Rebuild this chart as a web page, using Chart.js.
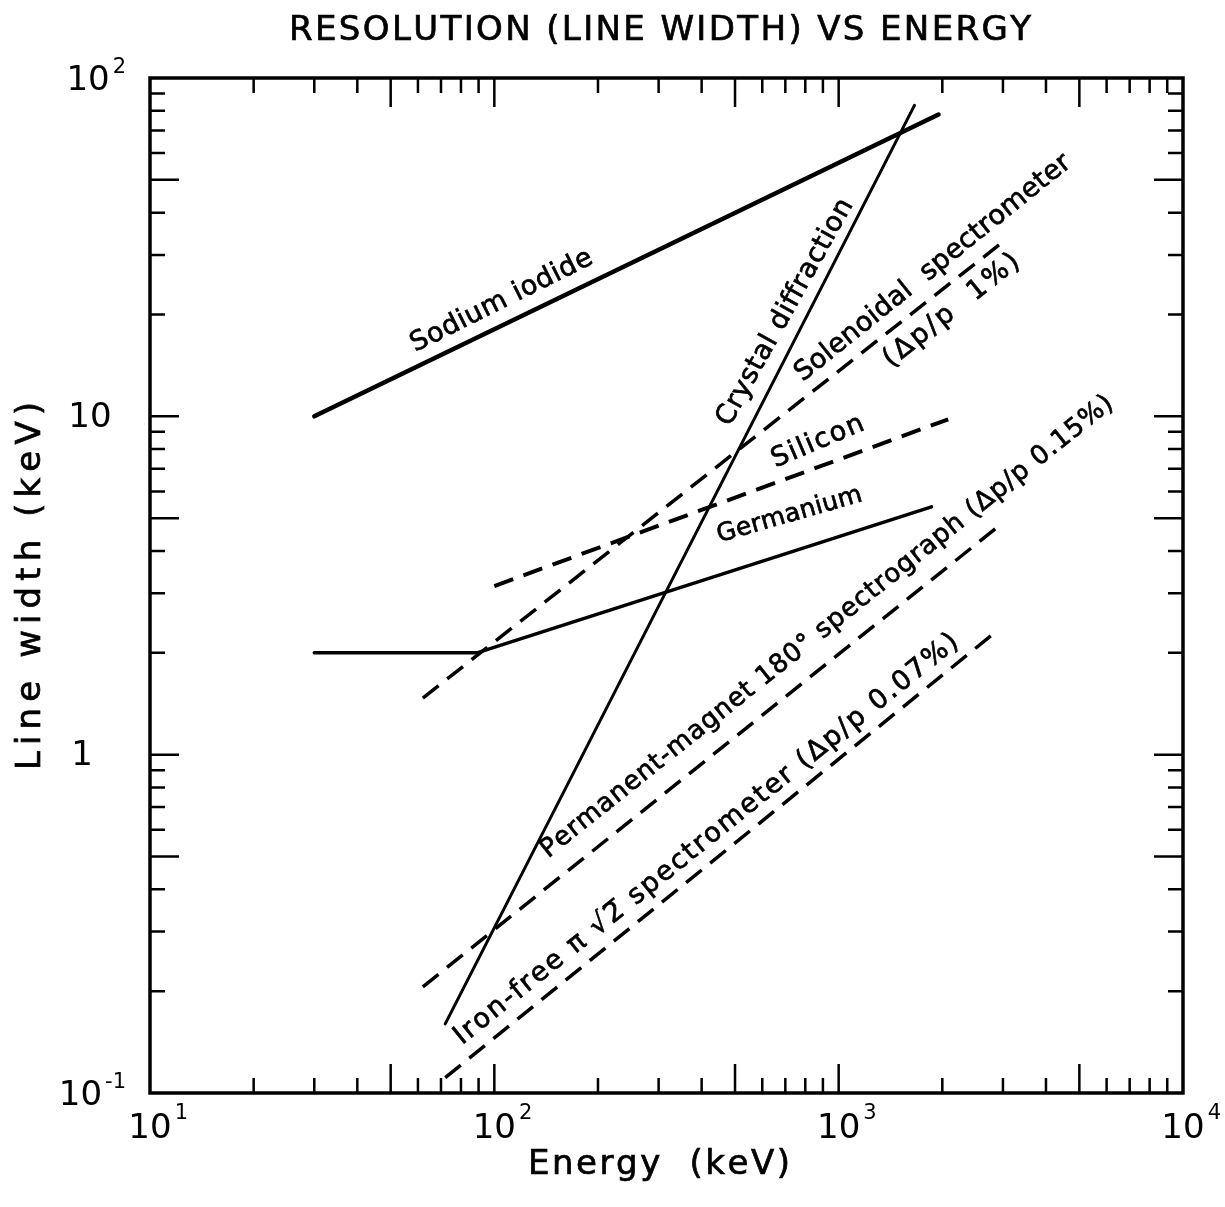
<!DOCTYPE html>
<html>
<head>
<meta charset="utf-8">
<title>Resolution (line width) vs energy</title>
<script src="https://cdn.jsdelivr.net/npm/chart.js@4.4.1/dist/chart.umd.min.js"></script>
<style>
  html, body { margin: 0; padding: 0; background: #fff; }
  #wrap { position: relative; width: 1225px; height: 1207px; }
</style>
</head>
<body>
<div id="wrap"><canvas id="chart" width="1225" height="1207"></canvas></div>
<script>
// ─── Detector curves: energy (keV) → line width (keV) ────────────────────
const naiEnergy     = [30, 1950];
const naiWidth      = [10, 78];
const crystalEnergy = [72, 1660];
const crystalWidth  = [0.16, 83];
const geEnergy      = [30, 89, 1860];
const geWidth       = [2.0, 2.0, 5.4];
const siEnergy      = [100, 2080];
const siWidth       = [3.15, 9.8];
const solEnergy     = [62, 3000];
const solWidth      = [1.47, 32.8];
const permEnergy    = [62, 2940];
const permWidth     = [0.206, 4.77];
const ironEnergy    = [72, 2910];
const ironWidth     = [0.111, 2.34];

// ─── Axis decades + labels (base, exponent) ──────────────────────────────
const xDecades   = [10, 100, 1000, 10000];
const xDecadeExp = ['1', '2', '3', '4'];
const yDecades    = [0.1, 1, 10, 100];
const yDecadeBase = ['10', '1', '10', '10'];
const yDecadeExp  = ['-1', '', '', '2'];
const minorMantissas = [2, 3, 4, 5, 6, 7, 8, 9];

const FONT = '"DejaVu Sans", "Liberation Sans", sans-serif';

// Curve annotations, anchored in data space (energy, width);
// lift nudges the text away from its curve, perpendicular to the writing
const curveLabels = [
  { text: 'Sodium iodide',            e: 105,  w: 21.9,  rot: -26.5, span: 200, size: 27, lift: 0 },
  { text: 'Crystal diffraction',      e: 700,  w: 20.3,  rot: -61,   span: 255, size: 27, lift: 0 },
  { text: 'Solenoidal  spectrometer', e: 1880, w: 27.4,  rot: -38.8, span: 346, size: 27, lift: 0 },
  { text: '(\u0394p/p  1%)',          e: 2130, w: 20.5,  rot: -38.4, span: 166, size: 27, lift: 0 },
  { text: 'Silicon',                  e: 870,  w: 8.4,   rot: -23,   span: 98,  size: 27, lift: 0 },
  { text: 'Germanium',                e: 720,  w: 5.1,   rot: -16,   span: 150, size: 25, lift: 0 },
  { text: 'Permanent-magnet 180\u00b0 spectrograph (\u0394p/p 0.15%)',
                                      e: 950,  w: 2.31,  rot: -38.6, span: 725, size: 26, lift: 6 },
  { text: 'Iron-free \u03c0 \u221a2\u0305 spectrometer (\u0394p/p 0.07%)',
                                      e: 426,  w: 0.541, rot: -38.8, span: 639, size: 27, lift: 7 },
];

function pts(xs, ys) {
  return xs.map((x, i) => ({ x, y: ys[i] }));
}

function curve(label, xs, ys, width, dashed) {
  return {
    label,
    data: pts(xs, ys),
    borderColor: '#000',
    borderWidth: width,
    borderDash: dashed ? [20, 11] : [],
    borderCapStyle: dashed ? 'butt' : 'round',
    borderJoinStyle: 'round',
    pointRadius: 0,
    tension: 0,
    fill: false,
  };
}

// Text with letters spread evenly over a given span, centred at (cx, cy)
function spacedText(ctx, text, cx, cy, rotDeg, span, font, lift = 0) {
  ctx.save();
  ctx.font = font;
  ctx.translate(cx, cy);
  ctx.rotate(rotDeg * Math.PI / 180);
  ctx.textBaseline = 'middle';
  ctx.textAlign = 'left';
  ctx.lineWidth = 0.7;
  const glyphs = text.match(/.\p{M}*/gu);
  const widths = glyphs.map((g) => ctx.measureText(g).width);
  const natural = widths.reduce((a, b) => a + b, 0);
  const gap = glyphs.length > 1 ? (span - natural) / (glyphs.length - 1) : 0;
  let x = -span / 2;
  glyphs.forEach((g, i) => {
    ctx.fillText(g, x, -lift);
    ctx.strokeText(g, x, -lift);
    x += widths[i] + gap;
  });
  ctx.restore();
}

// ─── Frame, inward ticks, decade labels, titles ──────────────────────────
const decorPlugin = {
  id: 'decor',
  afterDatasetsDraw(chart) {
    const { ctx, chartArea: a, scales: { x, y } } = chart;
    ctx.save();
    ctx.strokeStyle = '#000';
    ctx.fillStyle = '#000';

    // frame
    ctx.lineWidth = 3.5;
    ctx.strokeRect(a.left, a.top, a.right - a.left, a.bottom - a.top);

    // inward ticks on all four sides
    ctx.lineWidth = 2.5;
    const tickLen = (m) => (m === 1 || m === 5 ? 29 : 15);
    xDecades.slice(0, -1).forEach((d) => {
      [1, ...minorMantissas].forEach((m) => {
        if (m === 1 && d === xDecades[0]) return;
        const px = x.getPixelForValue(d * m);
        const len = tickLen(m);
        ctx.beginPath();
        ctx.moveTo(px, a.bottom); ctx.lineTo(px, a.bottom - len);
        ctx.moveTo(px, a.top);    ctx.lineTo(px, a.top + len);
        ctx.stroke();
      });
    });
    yDecades.slice(0, -1).forEach((d) => {
      [1, ...minorMantissas].forEach((m) => {
        if (m === 1 && d === yDecades[0]) return;
        const py = y.getPixelForValue(d * m);
        const len = tickLen(m);
        ctx.beginPath();
        ctx.moveTo(a.left, py);  ctx.lineTo(a.left + len, py);
        ctx.moveTo(a.right, py); ctx.lineTo(a.right - len, py);
        ctx.stroke();
      });
    });

    // x decade labels: base centred on the tick, exponent raised after it
    ctx.textBaseline = 'middle';
    xDecades.forEach((d, i) => {
      const px = x.getPixelForValue(d);
      ctx.font = '34px ' + FONT;
      ctx.textAlign = 'center';
      const bw = ctx.measureText('10').width;
      ctx.fillText('10', px, 1129);
      ctx.font = '21px ' + FONT;
      ctx.textAlign = 'left';
      ctx.fillText(xDecadeExp[i], px + bw / 2 + 3, 1114);
    });

    // y decade labels
    yDecades.forEach((d, i) => {
      const py = y.getPixelForValue(d);
      const base = yDecadeBase[i];
      const exp = yDecadeExp[i];
      ctx.font = '34px ' + FONT;
      const bw = ctx.measureText(base).width;
      if (exp) {
        ctx.font = '21px ' + FONT;
        const ew = ctx.measureText(exp).width;
        const right = 126;
        ctx.textAlign = 'left';
        ctx.fillText(exp, right - ew, py - 10);
        ctx.font = '34px ' + FONT;
        ctx.fillText(base, right - ew - 3 - bw, py + 3);
      } else {
        ctx.textAlign = 'center';
        ctx.fillText(base, base === '1' ? 82 : 90, py + 2);
      }
    });

    // titles
    spacedText(ctx, 'RESOLUTION (LINE WIDTH) VS ENERGY', 660, 31, 0, 742, '34px ' + FONT);
    spacedText(ctx, 'Energy  (keV)', 659, 1165, 0, 262, '34px ' + FONT);
    spacedText(ctx, 'Line width (keV)', 31, 586, -90, 368, '34px ' + FONT);

    // curve annotations
    curveLabels.forEach((l) => {
      spacedText(ctx, l.text, x.getPixelForValue(l.e), y.getPixelForValue(l.w),
        l.rot, l.span, l.size + 'px ' + FONT, l.lift);
    });

    ctx.restore();
  },
};

new Chart(document.getElementById('chart'), {
  type: 'line',
  data: {
    datasets: [
      curve('Sodium iodide', naiEnergy, naiWidth, 4.5, false),
      curve('Crystal diffraction', crystalEnergy, crystalWidth, 3, false),
      curve('Germanium', geEnergy, geWidth, 3.5, false),
      curve('Silicon', siEnergy, siWidth, 4, true),
      curve('Solenoidal spectrometer', solEnergy, solWidth, 3.5, true),
      curve('Permanent-magnet 180° spectrograph', permEnergy, permWidth, 3.5, true),
      curve('Iron-free spectrometer', ironEnergy, ironWidth, 3.5, true),
    ],
  },
  options: {
    responsive: false,
    animation: false,
    layout: { padding: { left: 150, right: 42, top: 78, bottom: 114 } },
    plugins: { legend: { display: false }, tooltip: { enabled: false }, title: { display: false } },
    scales: {
      x: { type: 'logarithmic', min: 10, max: 10000, display: false },
      y: { type: 'logarithmic', min: 0.1, max: 100, display: false },
    },
  },
  plugins: [decorPlugin],
});
</script>
</body>
</html>
